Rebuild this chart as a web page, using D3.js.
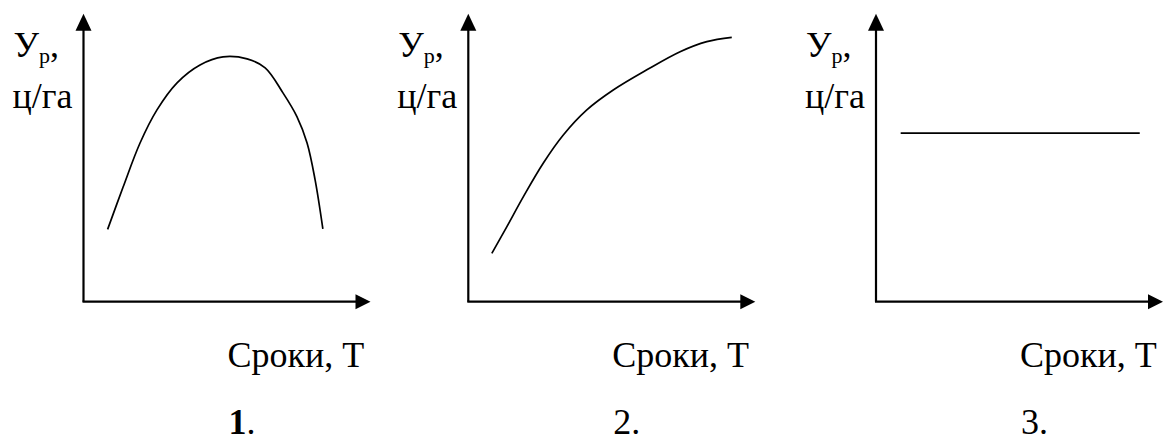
<!DOCTYPE html>
<html>
<head>
<meta charset="utf-8">
<script src="https://cdn.jsdelivr.net/npm/d3@7"></script>
</head>
<body style="margin:0">
<div id="chart"></div>
<script>
var width = 1163, height = 441;
var fontFamily = "Liberation Serif";

// panel labels
var yLabelTop = "У";
var yLabelSub = "р";
var yLabelUnit = "ц/га";
var xLabel = "Сроки, Т";
var panelNames = ["1", "2", "3"];

// curve values, in % of the axis length (x = срок, y = урожай)
var curve1 = [
    {x: 8.4, y: 25.1}, {x: 13.8, y: 39.8}, {x: 19.7, y: 55.1}, {x: 25.6, y: 66.6},
    {x: 32.6, y: 76.0}, {x: 40.6, y: 82.2}, {x: 48.6, y: 85.0}, {x: 57.0, y: 84.3},
    {x: 63.3, y: 81.2}, {x: 69.5, y: 72.5}, {x: 74.4, y: 64.2}, {x: 77.9, y: 55.1},
    {x: 80.7, y: 42.3}, {x: 83.4, y: 25.3}
];
var curve2 = [
    {x: 8.2, y: 16.8}, {x: 13.4, y: 26.0}, {x: 19.2, y: 36.5}, {x: 26.1, y: 48.1},
    {x: 33.1, y: 57.9}, {x: 41.3, y: 66.6}, {x: 50.5, y: 73.5}, {x: 62.2, y: 80.5},
    {x: 73.8, y: 86.8}, {x: 83.1, y: 90.3}, {x: 91.8, y: 91.8}
];
var curve3 = [
    {x: 8.6, y: 58.5}, {x: 91.9, y: 58.5}
];

var panels = [
    {name: panelNames[0], ox: 83.5, data: curve1, bold: true},
    {name: panelNames[1], ox: 468.3, data: curve2, bold: false},
    {name: panelNames[2], ox: 876, data: curve3, bold: false}
];
var oy = 301.7,
    axisW = 287,
    axisH = 288;

var svg = d3.select("#chart").append("svg")
    .attr("width", width)
    .attr("height", height);

panels.forEach(function (p) {
    var x = d3.scaleLinear().domain([0, 100]).range([p.ox, p.ox + axisW]);
    var y = d3.scaleLinear().domain([0, 100]).range([oy, oy - axisH]);

    var g = svg.append("g");

    // axes
    g.append("line")
        .attr("x1", x(0)).attr("y1", y(0))
        .attr("x2", x(0)).attr("y2", y(100) + 12)
        .attr("stroke", "#000").attr("stroke-width", 2.2);
    g.append("line")
        .attr("x1", x(0) - 1).attr("y1", y(0))
        .attr("x2", x(100) - 10).attr("y2", y(0))
        .attr("stroke", "#000").attr("stroke-width", 2.2);

    // arrow heads
    g.append("path")
        .attr("d", "M" + x(0) + "," + y(100) +
            "L" + (x(0) - 8) + "," + (y(100) + 17) +
            "L" + (x(0) + 8) + "," + (y(100) + 17) + "Z")
        .attr("fill", "#000");
    g.append("path")
        .attr("d", "M" + x(100) + "," + y(0) +
            "L" + (x(100) - 15) + "," + (y(0) - 7.5) +
            "L" + (x(100) - 15) + "," + (y(0) + 7.5) + "Z")
        .attr("fill", "#000");

    // curve
    var line = d3.line()
        .x(function (d) { return x(d.x); })
        .y(function (d) { return y(d.y); })
        .curve(d3.curveCatmullRom.alpha(0.5));
    g.append("path")
        .datum(p.data)
        .attr("d", line)
        .attr("fill", "none")
        .attr("stroke", "#000")
        .attr("stroke-width", 1.7);

    // y label
    var yl = g.append("text")
        .attr("x", x(0) - 70)
        .attr("y", 57)
        .attr("font-family", fontFamily)
        .attr("font-size", 36);
    yl.append("tspan").text(yLabelTop);
    yl.append("tspan")
        .attr("dy", 6)
        .attr("font-size", 22)
        .text(yLabelSub);
    yl.append("tspan")
        .attr("dy", -6)
        .text(",");

    g.append("text")
        .attr("x", x(0) - 71)
        .attr("y", 108)
        .attr("font-family", fontFamily)
        .attr("font-size", 36)
        .text(yLabelUnit);

    // x label
    g.append("text")
        .attr("x", x(0) + 144)
        .attr("y", 367)
        .attr("font-family", fontFamily)
        .attr("font-size", 36)
        .text(xLabel);

    // panel number
    var n = g.append("text")
        .attr("x", x(0) + 145)
        .attr("y", 434)
        .attr("font-family", fontFamily)
        .attr("font-size", 36);
    n.append("tspan")
        .attr("font-weight", p.bold ? "bold" : "normal")
        .text(p.name);
    n.append("tspan").text(".");
});
</script>
</body>
</html>
